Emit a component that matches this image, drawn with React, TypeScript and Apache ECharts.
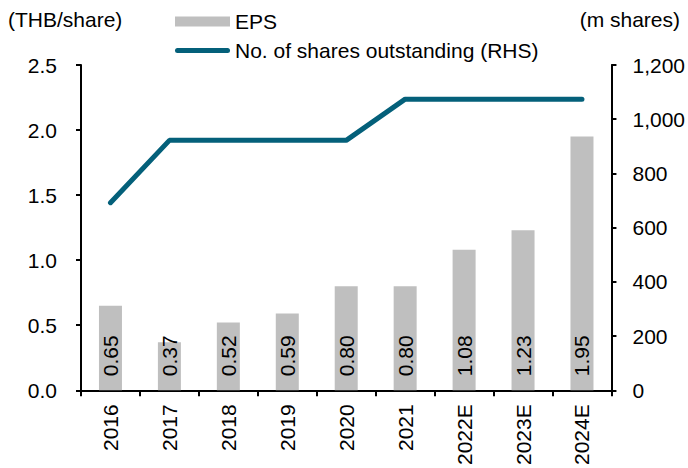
import React, { useEffect, useRef } from "react";
import * as echarts from "echarts";

const categories = ["2016", "2017", "2018", "2019", "2020", "2021", "2022E", "2023E", "2024E"];
const epsValues = [0.65, 0.37, 0.52, 0.59, 0.8, 0.8, 1.08, 1.23, 1.95];
const sharesValues = [692, 922, 922, 922, 922, 1074, 1074, 1074, 1074];
const leftTicks = { min: 0, max: 2.5, interval: 0.5 };
const rightTicks = { min: 0, max: 1200, interval: 200 };

const FONT = "Liberation Sans, Arial, sans-serif";
const FS = 21;
const LINE_COLOR = "#04607A";

export default function App() {
  const ref = useRef<HTMLDivElement>(null);
  useEffect(() => {
    if (!ref.current) return;
    const chart = echarts.init(ref.current, null, { renderer: "svg" });
    chart.setOption({
      animation: false,
      textStyle: { fontFamily: FONT },
      grid: { left: 81, right: 76, top: 65, bottom: 77, containLabel: false },
      legend: {
        orient: "vertical",
        left: 175,
        top: 11,
        padding: 0,
        itemWidth: 55,
        itemHeight: 10,
        itemGap: 8,
        textStyle: { fontFamily: FONT, fontSize: FS, color: "#000" },
        data: [
          { name: "EPS", icon: "rect" },
          {
            name: "No. of shares outstanding (RHS)",
            icon: "path://M2.5,0 L52.5,0 A2.5,2.5,0,0,1,52.5,5 L2.5,5 A2.5,2.5,0,0,1,2.5,0 Z",
          },
        ],
      },
      graphic: [
        { type: "text", left: 8, top: 9, style: { text: "(THB/share)", font: `${FS}px ${FONT}`, fill: "#000" } },
        { type: "text", right: 8, top: 9, style: { text: "(m shares)", font: `${FS}px ${FONT}`, fill: "#000" } },
      ],
      xAxis: {
        type: "category",
        data: categories,
        axisLine: { lineStyle: { color: "#000", width: 2 } },
        axisTick: { show: true, length: 6, lineStyle: { color: "#000", width: 2 } },
        axisLabel: { rotate: 90, color: "#000", fontSize: FS, fontFamily: FONT, margin: 14 },
      },
      yAxis: [
        {
          type: "value",
          ...leftTicks,
          position: "left",
          axisLine: { show: true, lineStyle: { color: "#000", width: 2 } },
          axisTick: { show: true, length: 5, lineStyle: { color: "#000", width: 2 } },
          axisLabel: { color: "#000", fontSize: FS, fontFamily: FONT, margin: 24, formatter: (v: number) => v.toFixed(1) },
          splitLine: { show: false },
        },
        {
          type: "value",
          ...rightTicks,
          position: "right",
          axisLine: { show: true, lineStyle: { color: "#000", width: 2 } },
          axisTick: { show: true, length: 5, lineStyle: { color: "#000", width: 2 } },
          axisLabel: {
            color: "#000",
            fontSize: FS,
            fontFamily: FONT,
            margin: 21,
            formatter: (v: number) => v.toLocaleString("en-US"),
          },
          splitLine: { show: false },
        },
      ],
      series: [
        {
          name: "EPS",
          type: "bar",
          yAxisIndex: 0,
          data: epsValues,
          barWidth: 23,
          itemStyle: { color: "#BFBFBF" },
          label: {
            show: true,
            position: "insideBottom",
            rotate: 90,
            align: "left",
            verticalAlign: "middle",
            distance: 14,
            fontSize: FS,
            fontFamily: FONT,
            color: "#000",
            formatter: (p: any) => p.value.toFixed(2),
          },
        },
        {
          name: "No. of shares outstanding (RHS)",
          type: "line",
          yAxisIndex: 1,
          data: sharesValues,
          symbol: "none",
          lineStyle: { color: LINE_COLOR, width: 5, cap: "round" },
          itemStyle: { color: LINE_COLOR },
        },
      ],
    });
    return () => chart.dispose();
  }, []);
  return <div ref={ref} style={{ width: 688, height: 468, position: "absolute", left: 0, top: 0 }} />;
}
